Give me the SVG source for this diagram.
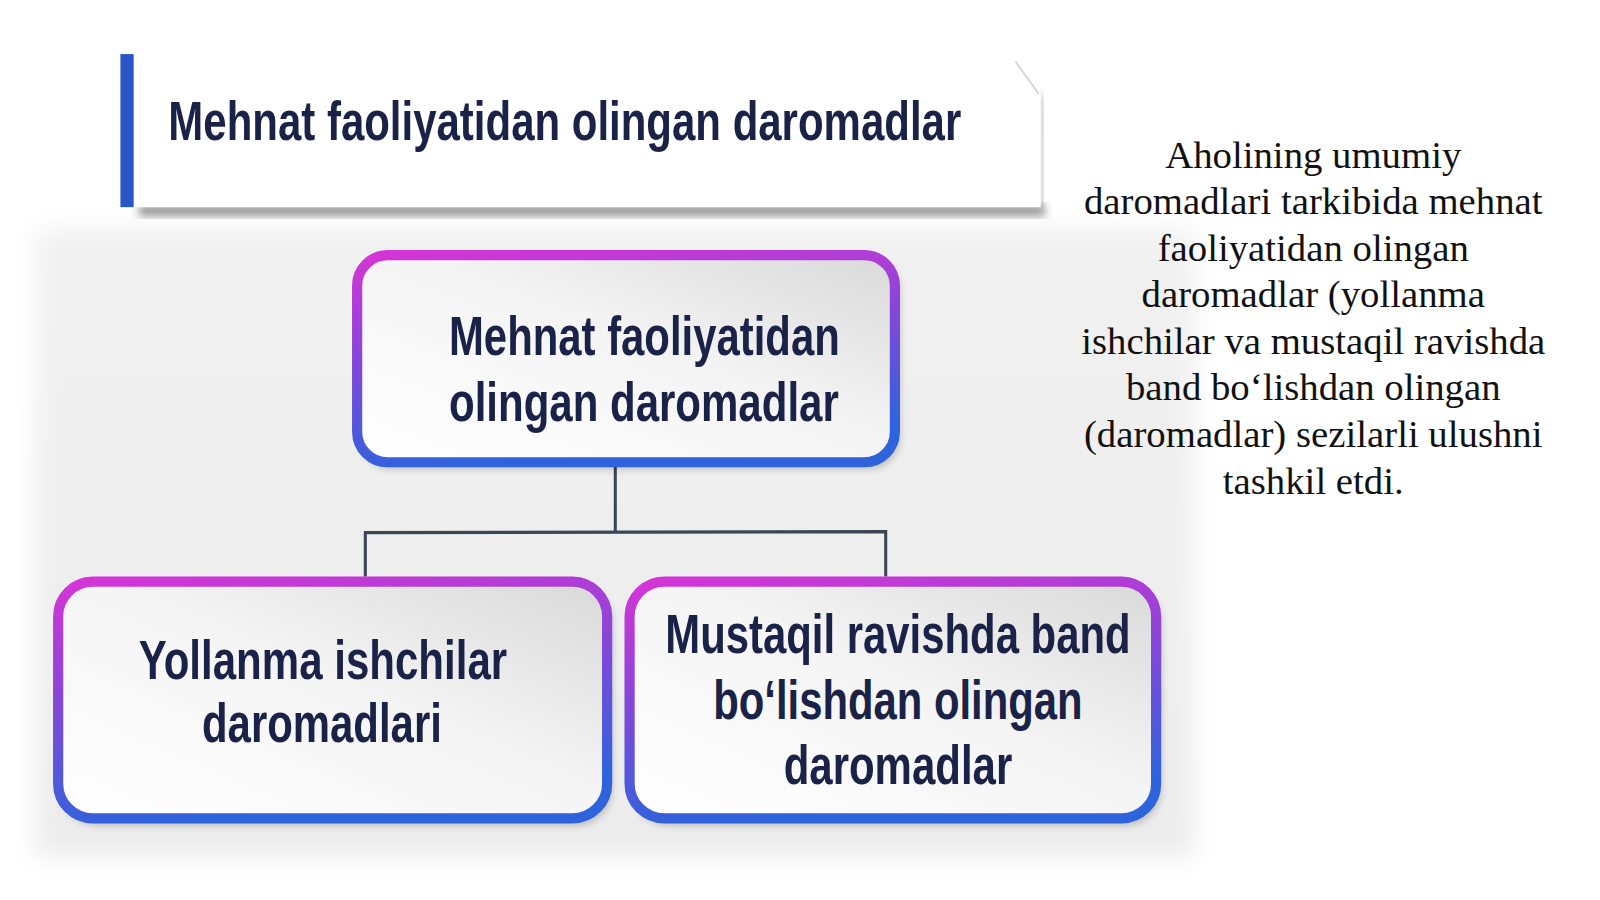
<svg xmlns="http://www.w3.org/2000/svg" width="1600" height="900" viewBox="0 0 1600 900">
<defs>
<style>
.bt{font-family:"Liberation Sans",Arial,sans-serif;font-weight:bold;font-size:54px;fill:#1a2247}
.para{font-family:"Liberation Serif","Times New Roman",serif;font-size:38px;fill:#111;text-anchor:middle}
.conn{stroke:#3b4654;stroke-width:3;fill:none}
.box{fill:url(#fillG);stroke:url(#strokeG);stroke-width:10}
</style>
<linearGradient id="strokeG" x1="0" y1="0" x2="0.25" y2="1">
<stop offset="0" stop-color="#d535d6"/>
<stop offset="0.45" stop-color="#8a45d8"/>
<stop offset="1" stop-color="#2f63dc"/>
</linearGradient>
<linearGradient id="fillG" x1="1" y1="0" x2="0" y2="1">
<stop offset="0" stop-color="#d9d9d9"/>
<stop offset="0.45" stop-color="#f4f4f4"/>
<stop offset="1" stop-color="#ffffff"/>
</linearGradient>
<linearGradient id="bgG" x1="0" y1="0" x2="0" y2="1">
<stop offset="0" stop-color="#f1f1f1"/>
<stop offset="1" stop-color="#ececec"/>
</linearGradient>
<filter id="blur" x="-10%" y="-10%" width="120%" height="120%"><feGaussianBlur stdDeviation="12"/></filter>
<filter id="sh" x="-10%" y="-10%" width="120%" height="130%"><feGaussianBlur stdDeviation="4"/></filter>
</defs>
<rect width="1600" height="900" fill="#ffffff"/>
<g transform="scale(1.0204)">
<rect x="35" y="225" width="1135" height="615" fill="url(#bgG)" filter="url(#blur)"/>

<g id="title">
<rect x="136" y="200" width="888" height="12" fill="#9a9a9a" filter="url(#sh)"/>
<path d="M1020,92 L1022,206" stroke="#b5b5b5" stroke-width="5" filter="url(#sh)"/>
<path d="M131,58 L995,58 L1020,92 L1020,203 L131,203 Z" fill="#ffffff"/>
<path d="M995,60 L1018,92" stroke="#d8d8d8" stroke-width="2"/>
<rect x="118" y="53" width="13" height="150" fill="#2a56c8"/>
<text class="bt" x="165" y="137" textLength="777" lengthAdjust="spacingAndGlyphs">Mehnat faoliyatidan olingan daromadlar</text>
</g>

<g id="connectors">
<path class="conn" d="M603,457 L603,521"/>
<path class="conn" d="M358,565 L358,522 L868,521 L868,565"/>
</g>

<g id="top-node">
<rect x="350" y="250" width="527" height="203" rx="30" fill="#000" opacity="0.25" transform="translate(4,6)" filter="url(#sh)"/>
<rect class="box" x="350" y="250" width="527" height="203" rx="30"/>
<text class="bt" x="440" y="348" textLength="383" lengthAdjust="spacingAndGlyphs">Mehnat faoliyatidan</text>
<text class="bt" x="440" y="413" textLength="382" lengthAdjust="spacingAndGlyphs">olingan daromadlar</text>
</g>

<g id="left-node">
<rect x="57" y="570" width="538" height="232" rx="34" fill="#000" opacity="0.25" transform="translate(4,6)" filter="url(#sh)"/>
<rect class="box" x="57" y="570" width="538" height="232" rx="34"/>
<text class="bt" x="136" y="665" textLength="361" lengthAdjust="spacingAndGlyphs">Yollanma ishchilar</text>
<text class="bt" x="198" y="727" textLength="235" lengthAdjust="spacingAndGlyphs">daromadlari</text>
</g>

<g id="right-node">
<rect x="617" y="570" width="516" height="232" rx="34" fill="#000" opacity="0.25" transform="translate(4,6)" filter="url(#sh)"/>
<rect class="box" x="617" y="570" width="516" height="232" rx="34"/>
<text class="bt" x="652" y="640" textLength="456" lengthAdjust="spacingAndGlyphs">Mustaqil ravishda band</text>
<text class="bt" x="699" y="705" textLength="362" lengthAdjust="spacingAndGlyphs">bo‘lishdan olingan</text>
<text class="bt" x="768" y="768" textLength="224" lengthAdjust="spacingAndGlyphs">daromadlar</text>
</g>

<g id="paragraph">
<text class="para" x="1287" y="165">Aholining umumiy</text>
<text class="para" x="1287" y="210">daromadlari tarkibida mehnat</text>
<text class="para" x="1287" y="256">faoliyatidan olingan</text>
<text class="para" x="1287" y="301">daromadlar (yollanma</text>
<text class="para" x="1287" y="347">ishchilar va mustaqil ravishda</text>
<text class="para" x="1287" y="392">band bo‘lishdan olingan</text>
<text class="para" x="1287" y="438">(daromadlar) sezilarli ulushni</text>
<text class="para" x="1287" y="484">tashkil etdi.</text>
</g>
</g>
</svg>
